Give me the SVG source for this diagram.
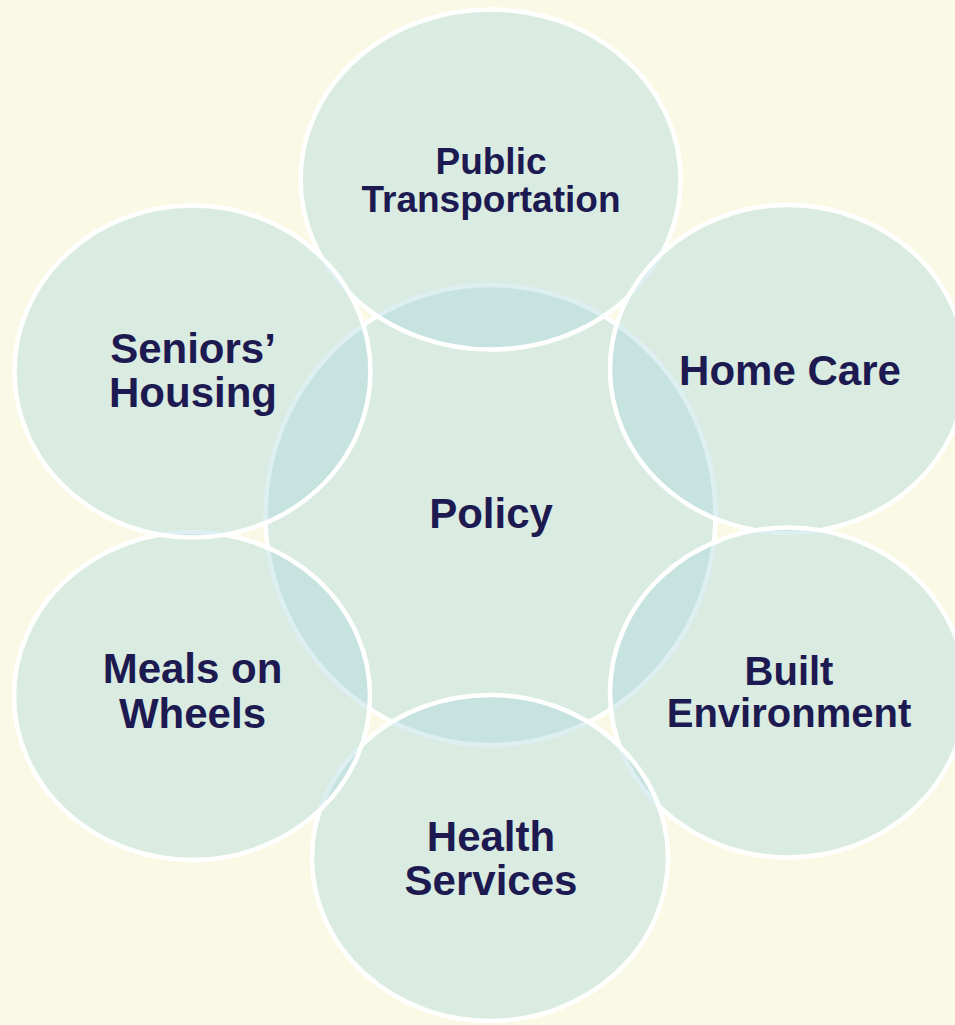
<svg xmlns="http://www.w3.org/2000/svg" width="955" height="1025" viewBox="0 0 955 1025">
  <style>
    .c { fill: #AAD6DD; fill-opacity: 0.4; stroke: #FFFFFF; stroke-width: 4.5; }
    .t { font-family: "Liberation Sans", Arial, sans-serif; font-weight: bold; font-size: 42px; fill: #1C1A50; text-anchor: middle; }
    .s { font-size: 37px; }
    .e { font-size: 40px; }
  </style>
  <rect x="0" y="0" width="955" height="1025" fill="#FAF9E6"/>
  <g id="policy">
    <ellipse class="c" cx="490.5" cy="515" rx="225" ry="230"/>
    <text class="t" x="491" y="528">Policy</text>
  </g>
  <g id="public-transportation">
    <ellipse class="c" cx="490.6" cy="179.5" rx="190" ry="170"/>
    <text class="t s" x="491" y="174">Public</text>
    <text class="t s" x="491" y="212">Transportation</text>
  </g>
  <g id="home-care">
    <ellipse class="c" cx="788" cy="369" rx="178" ry="164"/>
    <text class="t" x="790" y="385">Home Care</text>
  </g>
  <g id="built-environment">
    <ellipse class="c" cx="788" cy="692.5" rx="178" ry="165"/>
    <text class="t e" x="789" y="685">Built</text>
    <text class="t e" x="789" y="727">Environment</text>
  </g>
  <g id="health-services">
    <ellipse class="c" cx="490" cy="858" rx="178" ry="163"/>
    <text class="t" x="491" y="851">Health</text>
    <text class="t" x="491" y="895">Services</text>
  </g>
  <g id="meals-on-wheels">
    <ellipse class="c" cx="192" cy="696" rx="178" ry="164"/>
    <text class="t" x="192.5" y="683">Meals on</text>
    <text class="t" x="192.5" y="728">Wheels</text>
  </g>
  <g id="seniors-housing">
    <ellipse class="c" cx="192.5" cy="371.5" rx="178" ry="166"/>
    <text class="t" x="193" y="363">Seniors’</text>
    <text class="t" x="193" y="407">Housing</text>
  </g>
  <g id="connectors"></g>
</svg>
